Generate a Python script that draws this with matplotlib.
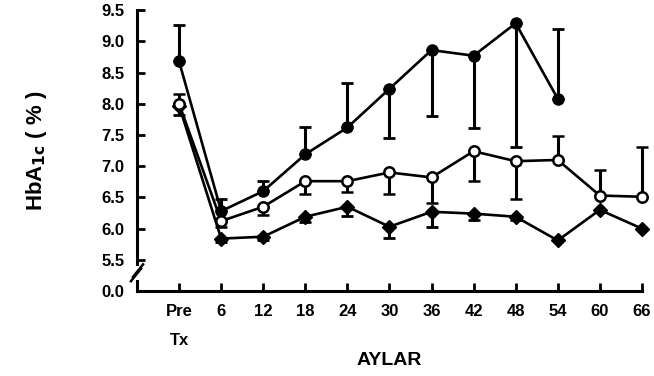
import matplotlib
matplotlib.use("Agg")
from matplotlib import pyplot as plt
import numpy as np

plt.rcParams['font.family'] = ['Liberation Sans', 'DejaVu Sans']
plt.rcParams['font.weight'] = 'bold'

# x categories (months)
aylar = ['Pre', '6', '12', '18', '24', '30', '36', '42', '48', '54', '60', '66']

# filled circles
dolu = [8.68, 6.28, 6.60, 7.19, 7.62, 8.24, 8.86, 8.77, 9.29, 8.08]
dolu_alt = [0, 0, 0, 0, 0, 0.79, 1.05, 1.16, 1.99, 0]
dolu_ust = [0.59, 0.19, 0.17, 0.43, 0.72, 0, 0, 0, 0, 1.12]

# open circles
bos = [8.00, 6.12, 6.35, 6.76, 6.76, 6.90, 6.82, 7.24, 7.08, 7.10, 6.53, 6.51]
bos_alt = [0, 0.09, 0.13, 0.21, 0.17, 0.34, 0.41, 0.48, 0.61, 0, 0, 0]
bos_ust = [0.15, 0, 0, 0, 0, 0, 0, 0, 0, 0.38, 0.41, 0.79]

# diamonds
elmas = [7.97, 5.84, 5.87, 6.19, 6.35, 6.03, 6.27, 6.24, 6.19, 5.81, 6.30, 6.00]
elmas_alt = [0.15, 0.06, 0.05, 0.08, 0.15, 0.18, 0.24, 0.1, 0.06, 0, 0, 0]
elmas_ust = [0, 0, 0, 0, 0, 0, 0, 0, 0, 0, 0, 0]

yticks = [5.0, 5.5, 6.0, 6.5, 7.0, 7.5, 8.0, 8.5, 9.0, 9.5]
ylabels = ['0.0', '5.5', '6.0', '6.5', '7.0', '7.5', '8.0', '8.5', '9.0', '9.5']

fig = plt.figure(figsize=(6.54, 3.76), dpi=100)
ax = fig.add_axes([0.2095, 0.226, 0.772, 0.747])

x = np.arange(len(aylar))
lw = 1.9
stil = dict(color='black', lw=lw, elinewidth=2.2, capsize=4.5, capthick=2, clip_on=False)
ax.errorbar(x[:len(dolu)], dolu, yerr=[dolu_alt, dolu_ust],
            marker='o', ms=8, mfc='black', mec='black', zorder=3, **stil)
ax.errorbar(x, bos, yerr=[bos_alt, bos_ust],
            marker='o', ms=7.5, mfc='white', mec='black', mew=1.8, zorder=4, **stil)
ax.errorbar(x, elmas, yerr=[elmas_alt, elmas_ust],
            marker='D', ms=7, mfc='black', mec='black', zorder=3, **stil)

ax.set_xlim(-1, 11)
ax.set_ylim(5.0, 9.5)
ax.set_xticks(x)
ax.set_xticklabels(aylar)
ax.set_yticks(yticks)
ax.set_yticklabels(ylabels)
ax.tick_params(direction='in', width=2, length=6, labelsize=12, pad=9)
for s in ['top', 'right']:
    ax.spines[s].set_visible(False)
for s in ['left', 'bottom']:
    ax.spines[s].set_linewidth(2.2)

ax.text(0, -0.15, 'Tx', transform=ax.get_xaxis_transform(), ha='center', va='top',
        fontsize=12, fontweight='bold')

# axis break on y
ax.plot([0, 0], [0.04, 0.09], transform=ax.transAxes, color='white', lw=4,
        clip_on=False, zorder=5, solid_capstyle='butt')
ax.plot([-0.012, 0.008], [0.035, 0.08], transform=ax.transAxes, color='black',
        lw=1.8, clip_on=False, zorder=6)
ax.plot([-0.008, 0.012], [0.05, 0.095], transform=ax.transAxes, color='black',
        lw=1.8, clip_on=False, zorder=6)

ax.set_ylabel('HbA$_{\\mathbf{1c}}$ ( % )', fontsize=16, fontweight='bold', labelpad=38)
ax.set_xlabel('AYLAR', fontsize=14, fontweight='bold', labelpad=24)

fig.savefig('out.png', dpi=100)
